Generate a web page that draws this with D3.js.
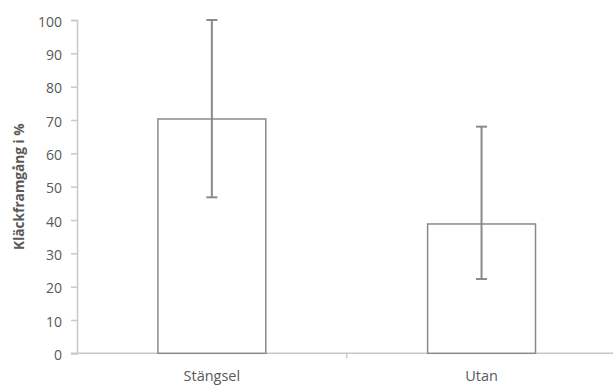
<!DOCTYPE html>
<html>
<head>
<meta charset="utf-8">
<script src="https://cdn.jsdelivr.net/npm/d3@7"></script>
<style>
    body { margin: 0; background: #fff; }
    svg { display: block; }
    text { font-family: "Open Sans", sans-serif; fill: #595959; }
</style>
</head>
<body>
<div id="chart"></div>
<script>
const categories = ['Stängsel', 'Utan'];
const values = [70.3, 38.8];
const errLow = [46.8, 22.3];
const errHigh = [100, 68];
const yTicks = [0, 10, 20, 30, 40, 50, 60, 70, 80, 90, 100];
const yLabel = 'Kläckframgång i %';

(function() {
    const width = 613, height = 385;
    const margin = {top: 20, right: -3.4, bottom: 31.7, left: 77};

    const svg = d3.select('#chart')
        .append('svg')
        .attr('width', width)
        .attr('height', height);

    const x = d3.scaleBand()
        .domain(categories)
        .range([margin.left, width - margin.right])
        .padding(0);

    const y = d3.scaleLinear()
        .domain([0, 100])
        .range([height - margin.bottom, margin.top]);

    const axisColor = '#c8c8c8';
    const barColor = '#8a8a8a';

    // y axis
    const yAxis = svg.append('g')
        .attr('transform', `translate(${margin.left},0)`)
        .call(d3.axisLeft(y).tickValues(yTicks).tickSize(6).tickPadding(9));
    yAxis.select('.domain').attr('stroke', axisColor).attr('stroke-width', 1.5);
    yAxis.selectAll('.tick line').attr('stroke', axisColor).attr('stroke-width', 1.5);
    yAxis.selectAll('.tick text')
        .attr('dy', '0.45em')
        .style('font-size', '14px')
        .attr('fill', '#595959');

    // x axis: labels at band centres, tick marks at band boundaries
    const xAxis = svg.append('g')
        .attr('transform', `translate(0,${y(0)})`)
        .call(d3.axisBottom(x).tickSize(0).tickPadding(17));
    xAxis.select('.domain').remove();
    xAxis.selectAll('.tick text')
        .style('font-size', '14.5px')
        .attr('fill', '#595959');

    svg.append('line')
        .attr('x1', margin.left - 6)
        .attr('x2', width - margin.right)
        .attr('y1', y(0))
        .attr('y2', y(0))
        .attr('stroke', axisColor)
        .attr('stroke-width', 1.5);

    svg.selectAll('.xtick')
        .data(categories.slice(1))
        .enter().append('line')
        .attr('class', 'xtick')
        .attr('x1', d => x(d))
        .attr('x2', d => x(d))
        .attr('y1', y(0))
        .attr('y2', y(0) + 5)
        .attr('stroke', axisColor)
        .attr('stroke-width', 1.5);

    // bars
    const barW = x.bandwidth() * 0.4;
    svg.selectAll('.bar')
        .data(values)
        .enter().append('rect')
        .attr('class', 'bar')
        .attr('x', (d, i) => x(categories[i]) + (x.bandwidth() - barW) / 2)
        .attr('y', d => y(d))
        .attr('width', barW)
        .attr('height', d => y(0) - y(d))
        .attr('fill', '#fff')
        .attr('stroke', barColor)
        .attr('stroke-width', 1.5);

    // error bars
    const capW = 11;
    const err = svg.selectAll('.err')
        .data(values)
        .enter().append('g')
        .attr('class', 'err')
        .attr('transform', (d, i) => `translate(${x(categories[i]) + x.bandwidth() / 2},0)`);

    err.append('line')
        .attr('y1', (d, i) => y(errLow[i]))
        .attr('y2', (d, i) => y(errHigh[i]))
        .attr('stroke', barColor)
        .attr('stroke-width', 2);

    err.selectAll('.cap')
        .data((d, i) => [errLow[i], errHigh[i]])
        .enter().append('line')
        .attr('class', 'cap')
        .attr('x1', -capW / 2)
        .attr('x2', capW / 2)
        .attr('y1', d => y(d))
        .attr('y2', d => y(d))
        .attr('stroke', barColor)
        .attr('stroke-width', 2);

    // y label
    svg.append('text')
        .attr('transform', `translate(23.5,${(y(0) + y(100)) / 2}) rotate(-90)`)
        .attr('text-anchor', 'middle')
        .style('font-size', '13.7px')
        .style('font-weight', 'bold')
        .attr('fill', '#404040')
        .text(yLabel);
})();
</script>
</body>
</html>
